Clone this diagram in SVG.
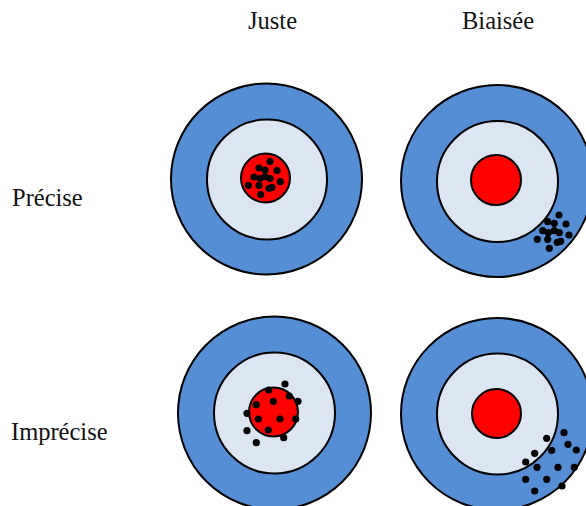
<svg xmlns="http://www.w3.org/2000/svg" width="586" height="506" viewBox="0 0 586 506">
<style>
.lbl{font-family:"Liberation Serif","Times New Roman",serif;font-size:24.5px;fill:#111}
.outer{fill:#558ED5;stroke:#000;stroke-width:2}
.mid{fill:#DCE6F2;stroke:#000;stroke-width:2}
.bull{fill:#FF0000;stroke:#000;stroke-width:2}
.hit{fill:#000}
</style>
<rect width="586" height="506" fill="#fff"/>
<g id="labels">
<text class="lbl" x="248" y="29">Juste</text>
<text class="lbl" x="462" y="29">Biaisée</text>
<text class="lbl" x="12" y="206">Précise</text>
<text class="lbl" x="11" y="440">Imprécise</text>
</g>
<g id="target-juste-precise">
<circle class="outer" cx="266.5" cy="179" r="95.5"/>
<circle class="mid" cx="267" cy="179.5" r="60"/>
<circle class="bull" cx="265.5" cy="178" r="24.5"/>
<g class="hit">
<circle cx="270" cy="161.5" r="3.6"/><circle cx="259" cy="168" r="3.6"/><circle cx="265" cy="170" r="3.6"/><circle cx="277" cy="170.5" r="3.6"/>
<circle cx="254" cy="177" r="3.6"/><circle cx="260" cy="178.5" r="3.6"/><circle cx="265" cy="176.7" r="3.6"/><circle cx="270" cy="178.5" r="3.6"/>
<circle cx="280.3" cy="181.7" r="3.6"/><circle cx="248.5" cy="185.3" r="3.6"/><circle cx="259" cy="185.5" r="3.6"/><circle cx="269" cy="188.3" r="3.6"/>
<circle cx="272" cy="187.3" r="3.6"/><circle cx="260.7" cy="194.5" r="3.6"/>
</g>
</g>
<g id="target-biaisee-precise">
<circle class="outer" cx="497" cy="181" r="96"/>
<circle class="mid" cx="497.5" cy="181.5" r="60.5"/>
<circle class="bull" cx="496" cy="180" r="25"/>
<g class="hit">
<circle cx="559" cy="215" r="3.6"/><circle cx="547.7" cy="221.7" r="3.6"/><circle cx="554.3" cy="223.3" r="3.6"/><circle cx="566" cy="224" r="3.6"/>
<circle cx="542.7" cy="230.7" r="3.6"/><circle cx="548.3" cy="232.7" r="3.6"/><circle cx="554.3" cy="230.7" r="3.6"/><circle cx="559.3" cy="232.7" r="3.6"/>
<circle cx="569" cy="235" r="3.6"/><circle cx="537.3" cy="239.3" r="3.6"/><circle cx="547.7" cy="239.3" r="3.6"/><circle cx="557.3" cy="242.3" r="3.6"/>
<circle cx="560.7" cy="241.3" r="3.6"/><circle cx="549.3" cy="248.3" r="3.6"/>
</g>
</g>
<g id="target-juste-imprecise">
<circle class="outer" cx="274.5" cy="413" r="96.5"/>
<circle class="mid" cx="274.5" cy="413" r="60.5"/>
<circle class="bull" cx="273.5" cy="412" r="24.5"/>
<g class="hit">
<circle cx="285" cy="384" r="3.6"/><circle cx="268.7" cy="390" r="3.6"/><circle cx="289.3" cy="396" r="3.6"/><circle cx="298" cy="401.3" r="3.6"/>
<circle cx="273.3" cy="401.3" r="3.6"/><circle cx="256.3" cy="404.7" r="3.6"/><circle cx="247" cy="413.3" r="3.6"/><circle cx="258.3" cy="419" r="3.6"/>
<circle cx="280" cy="419" r="3.6"/><circle cx="295.7" cy="419" r="3.6"/><circle cx="268.3" cy="430" r="3.6"/><circle cx="247" cy="430.7" r="3.6"/>
<circle cx="283.7" cy="437.7" r="3.6"/><circle cx="256.3" cy="442.7" r="3.6"/>
</g>
</g>
<g id="target-biaisee-imprecise">
<circle class="outer" cx="497" cy="414" r="96"/>
<circle class="mid" cx="497.5" cy="414" r="60.5"/>
<circle class="bull" cx="496.5" cy="413.5" r="24.5"/>
<g class="hit">
<circle cx="564" cy="432.7" r="3.6"/><circle cx="546.7" cy="438.3" r="3.6"/><circle cx="568" cy="444.3" r="3.6"/><circle cx="576.3" cy="450" r="3.6"/>
<circle cx="551.7" cy="450.3" r="3.6"/><circle cx="534.7" cy="453.3" r="3.6"/><circle cx="525.7" cy="462" r="3.6"/><circle cx="537" cy="467.3" r="3.6"/>
<circle cx="558" cy="467.3" r="3.6"/><circle cx="574.3" cy="467.3" r="3.6"/><circle cx="525.7" cy="479.3" r="3.6"/><circle cx="546.7" cy="479.3" r="3.6"/>
<circle cx="562" cy="486" r="3.6"/><circle cx="534.7" cy="491" r="3.6"/>
</g>
</g>
<g id="connectors"></g>
</svg>
